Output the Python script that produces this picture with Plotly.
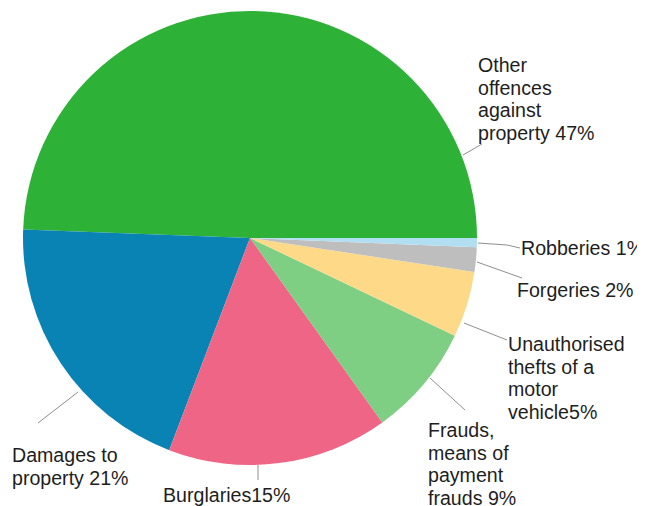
import plotly.graph_objects as go

# ---- data ----
categories = [
    "Other offences against property",
    "Damages to property",
    "Burglaries",
    "Frauds, means of payment frauds",
    "Unauthorised thefts of a motor vehicle",
    "Forgeries",
    "Robberies",
]
values = [49.4, 19.8, 15.7, 8.0, 4.7, 1.75, 0.64]
pct_labels = ["47%", "21%", "15%", "9%", "5%", "2%", "1%"]
label_text = [
    "Other<br>offences<br>against<br>property 47%",
    "Damages to<br>property 21%",
    "Burglaries15%",
    "Frauds,<br>means of<br>payment<br>frauds 9%",
    "Unauthorised<br>thefts of a<br>motor<br>vehicle5%",
    "Forgeries 2%",
    "Robberies 1%",
]
colors = ["#2eb137", "#0983b4", "#ef6585", "#7ece84", "#feda88", "#bebebe", "#b2def2"]

# ---- layout constants (pixels, page coordinates) ----
W, H = 645, 506
PAGE_OFF = 8          # default body margin of the html page
CX, CY, R = 250, 238, 227
FONT_SIZE = 19.6
LINE_GAP = 22.5
TEXT_PAD = 1
START_DEG = 90        # first slice begins at 3 o'clock and runs counterclockwise
# label placement: left x, baseline of first line
label_pos = [
    (478, 72),
    (12, 462),
    (163, 502),
    (428, 437),
    (508, 351),
    (517, 297),
    (521, 255),
]
# leader lines
leaders = [
    [(463, 155), (482, 144)],
    [(78, 392), (38, 423)],
    [(258, 465), (258, 480)],
    [(430, 378), (465, 410)],
    [(464, 323), (507, 340)],
    [(477, 262), (522, 278)],
    [(478, 243), (507, 245), (520, 248)],
]


def px(x):
    return (x - PAGE_OFF) / W


def py(y):
    return 1 - (y - PAGE_OFF) / H


# plotly's counterclockwise pies end the first slice at `rotation`
first_share = values[0] / sum(values)
rotation = START_DEG - 360 * first_share

fig = go.Figure(
    go.Pie(
        labels=categories,
        values=values,
        sort=False,
        direction="counterclockwise",
        rotation=rotation,
        marker=dict(colors=colors, line=dict(width=0)),
        textinfo="none",
        hoverinfo="label+percent",
        domain=dict(x=[px(CX - R), px(CX + R)], y=[py(CY + R), py(CY - R)]),
    )
)

shapes = []
for pts in leaders:
    path = "M " + " L ".join(f"{px(x)},{py(y)}" for x, y in pts)
    shapes.append(
        dict(type="path", path=path, xref="paper", yref="paper",
             line=dict(color="#8f8f8f", width=1))
    )

annotations = []
for text, (lx, ly) in zip(label_text, label_pos):
    for i, line in enumerate(text.split("<br>")):
        base = ly + i * LINE_GAP
        annotations.append(
            dict(text=line, x=px(lx - TEXT_PAD), y=py(base - 0.35 * FONT_SIZE),
                 xref="paper", yref="paper", xanchor="left", yanchor="middle",
                 showarrow=False, borderpad=0,
                 font=dict(family="Liberation Sans, Arial, sans-serif",
                           size=FONT_SIZE, color="#1e1e1e"))
        )

fig.update_layout(
    width=W, height=H,
    margin=dict(l=0, r=0, t=0, b=0),
    paper_bgcolor="white", plot_bgcolor="white",
    showlegend=False,
    shapes=shapes,
    annotations=annotations,
)

fig.write_html("out.html")
